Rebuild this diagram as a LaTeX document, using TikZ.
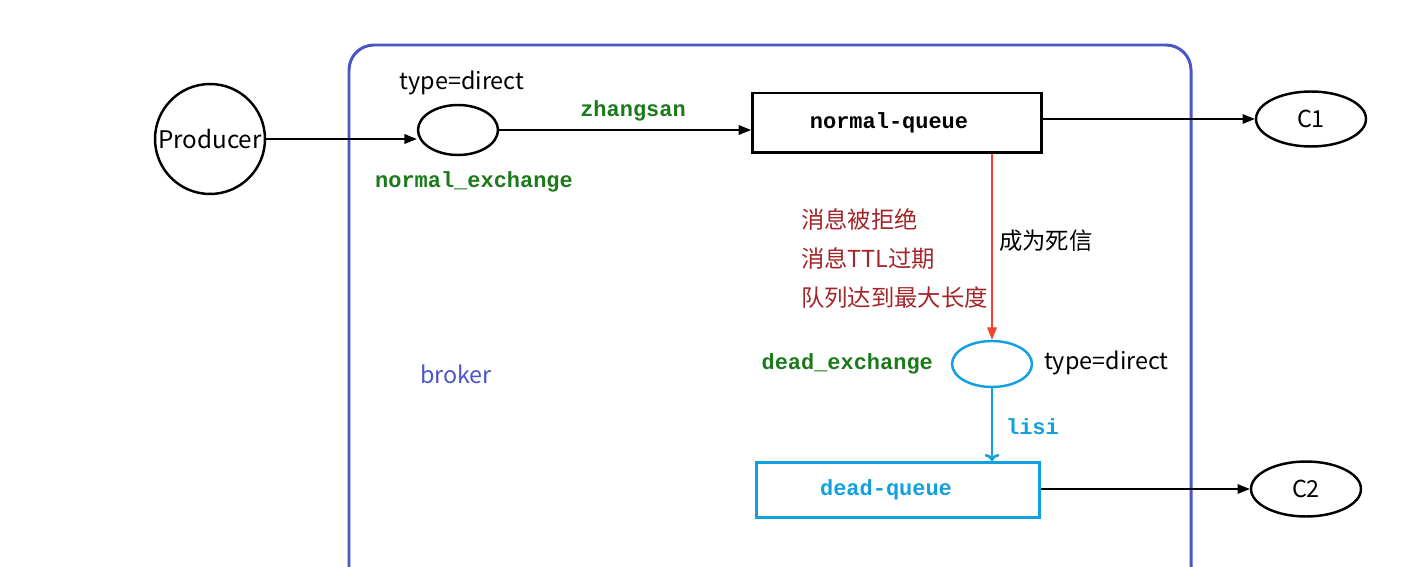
\documentclass[tikz,border=0pt]{standalone}
\usepackage{fontspec}
\setmainfont{Noto Sans CJK SC}
\setmonofont{Liberation Mono}
\usepackage{tikz}
\usetikzlibrary{arrows.meta, positioning, shapes.geometric}
\definecolor{brokerblue}{HTML}{4A55C8}
\definecolor{keygreen}{HTML}{1C7A1C}
\definecolor{deadblue}{HTML}{12A0E0}
\definecolor{causered}{HTML}{A3262A}
\definecolor{flowred}{HTML}{F4432F}

\begin{document}
\begin{tikzpicture}[
  x=0.02cm, y=-0.02cm,
  >={Triangle[length=7pt,width=5.5pt]},
  txt/.style={font=\fontsize{13.3pt}{15pt}\selectfont, inner sep=1pt},
  keytxt/.style={font=\fontsize{12.5pt}{15pt}\selectfont\ttfamily\bfseries, text=keygreen, inner sep=1pt},
  link/.style={draw, line width=0.6pt, ->},
  exch/.style={ellipse, draw, line width=1.4pt, minimum width=1.6cm, minimum height=1.0cm, inner sep=0pt},
  qbox/.style={rectangle, draw, line width=1.7pt, font=\fontsize{12.5pt}{15pt}\selectfont\ttfamily\bfseries},
  consumer/.style={ellipse, draw, line width=1.4pt, minimum width=2.2cm, minimum height=1.1cm, inner sep=0pt, txt}
  ]
  \useasboundingbox (0,0) rectangle (1415,567);
  \clip (0,0) rectangle (1415,567);
  % broker frame
  \draw[brokerblue, line width=1.7pt, rounded corners=0.5cm] (349,45) rectangle (1191,620);
  \node[txt, text=brokerblue] (broker) at (456,374) {broker};

  % producer side
  \node[circle, draw, line width=1.4pt, minimum size=2.2cm, inner sep=0pt, txt, font=\fontsize{13.8pt}{15pt}\selectfont] (prod) at (210,139) {Producer};
  \node[exch] (nex) at (458,130) {};
  \node[txt] (ntype) at (462,83) {type=direct};
  \node[keytxt] (nexname) at (474,182) {normal\_exchange};
  \node[qbox, minimum width=5.78cm, minimum height=1.2cm] (nq) at (897,123) {normal-queue\kern0.32cm};
  \node[consumer] (c1) at (1311,119) {C1};

  \draw[link] (prod.east) -- (nex.west |- prod.east);
  \draw[link] (nex.east) -- (nex.east -| nq.west);
  \node[keytxt] (rkey1) at (633,111) {zhangsan};
  \draw[link] (nq.east |- c1.west) -- (c1.west);

  % dead letter side
  \node[exch, draw=deadblue, minimum height=0.92cm] (dex) at (992,364) {};
  \node[keytxt, anchor=east] (dexname) at (935,364) {dead\_exchange};
  \node[txt, anchor=west] (dtype) at (1042,363) {type=direct};
  \node[qbox, draw=deadblue, text=deadblue, minimum width=5.66cm, minimum height=1.1cm] (dq) at (898,490) {dead-queue\kern0.48cm};
  \node[consumer] (c2) at (1306,489) {C2};

  \draw[flowred, line width=0.6pt, ->] (dex.north |- nq.south) -- (dex.north);
  \node[txt, anchor=west] (dead) at (997,241) {成为死信};
  \node[txt, anchor=west, text=causered] (why1) at (799,219) {消息被拒绝};
  \node[txt, anchor=west, text=causered] (why2) at (799,259) {消息TTL过期};
  \node[txt, anchor=west, text=causered] (why3) at (799,298) {队列达到最大长度};

  \draw[deadblue, line width=1.5pt, -{To[length=4pt]}] (dex.south) -- (dex.south |- dq.north);
  \node[keytxt, text=deadblue, anchor=west] (rkey2) at (1004,427) {lisi};
  \draw[link] (dq.east |- c2.west) -- (c2.west);
\end{tikzpicture}
\end{document}
